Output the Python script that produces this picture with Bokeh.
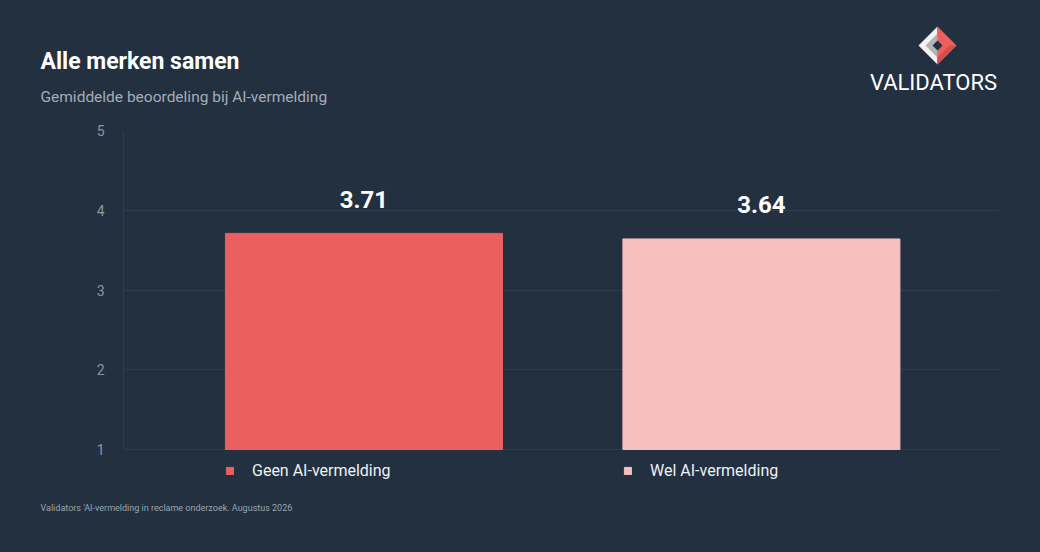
from bokeh.plotting import figure
from bokeh.models import (Range1d, FixedTicker, Legend, LegendItem, ColumnDataSource)
from bokeh.layouts import column
from bokeh.core.properties import value
from bokeh.embed import file_html
from bokeh.resources import INLINE

# ---- data ----
categories = ["Geen AI-vermelding", "Wel AI-vermelding"]
scores = [3.71, 3.64]
bar_colors = ["#eb5f5f", "#f6bfbf"]
y_ticks = [1, 2, 3, 4, 5]
title_text = "Alle merken samen"
subtitle_text = "Gemiddelde beoordeling bij AI-vermelding"
footer_text = "Validators 'AI-vermelding in reclame onderzoek. Augustus 2026"
logo_text = "VALIDATORS"

BG = "#223040"
GRID = "#2f3d4c"
FONT = "Roboto"
W = 1040
HEAD_H, MAIN_H, FOOT_H = 120, 370, 62


def blank(height, y0):
    f = figure(width=W, height=height, output_backend="svg", toolbar_location=None,
               x_range=Range1d(0, W), y_range=Range1d(y0 + height, y0),
               x_axis_location=None, y_axis_location=None,
               min_border=0, frame_align=False)
    f.min_border_left = f.min_border_right = f.min_border_top = f.min_border_bottom = 0
    f.background_fill_color = BG
    f.border_fill_color = BG
    f.outline_line_color = None
    f.xgrid.visible = False
    f.ygrid.visible = False
    return f


def txt(f, text, x, y, size, color, style="normal", align="left"):
    f.text(x=[x], y=[y], text=[text], text_font=value(FONT), text_font_size=size,
           text_color=color, text_font_style=style, text_align=align,
           text_baseline="alphabetic")


# ---- header ----
head = blank(HEAD_H, 0)
txt(head, title_text, 40, 61, "23px", "white", "bold")
txt(head, subtitle_text, 40, 96.5, "15.5px", "#a3adb8")
txt(head, logo_text, 933, 82, "22px", "white", align="center")
cx, cy, R = 937, 45, 19
head.patches(
    xs=[[cx - R, cx, cx], [cx - R + 7, cx, cx], [cx, cx + R, cx],
        [cx, cx + R, cx + R - 7, cx], [cx - 5, cx, cx + 5, cx]],
    ys=[[cy, cy - R, cy + R], [cy, cy - R + 7, cy + R - 7], [cy - R, cy, cy + R],
        [cy + R, cy, cy, cy + R - 7], [cy, cy - 5, cy, cy + 5]],
    fill_color=["#f2f2f2", "#b3b3b3", "#ec5f5f", "#d84c4c", BG], line_color=None)

# ---- main chart ----
FRAME_L, FRAME_R, FRAME_T = 123, 999, 130
Y1_PAGE, Y5_PAGE = 449, 130
MAIN_TOP = HEAD_H
MAIN_BOTTOM = HEAD_H + MAIN_H
unit = (Y1_PAGE - Y5_PAGE) / 4.0
y_start = 1 - (MAIN_BOTTOM - Y1_PAGE) / unit

p = figure(width=W, height=MAIN_H, output_backend="svg", toolbar_location=None,
           x_range=Range1d(-0.605, 1.599), y_range=Range1d(y_start, 5),
           x_axis_location=None, frame_align=False)
p.min_border_left = FRAME_L
p.min_border_right = W - FRAME_R
p.min_border_top = FRAME_T - MAIN_TOP
p.min_border_bottom = 0
p.background_fill_color = BG
p.border_fill_color = BG
p.outline_line_color = None

src = ColumnDataSource(dict(x=list(range(len(categories))), top=scores,
                            color=bar_colors, cat=categories,
                            lbl=["%.2f" % s for s in scores]))
r = p.vbar(x="x", top="top", bottom=1, width=0.697, color="color", source=src)

p.text(x="x", y="top", text="lbl", source=src, text_align="center",
       text_baseline="alphabetic", y_offset=-34, text_color="white",
       text_font=value(FONT), text_font_style="bold", text_font_size="24px")

p.xgrid.visible = False
p.yaxis.ticker = FixedTicker(ticks=y_ticks)
p.yaxis.bounds = (1, 5)
p.yaxis.axis_line_color = GRID
p.yaxis.major_tick_line_color = None
p.yaxis.minor_tick_line_color = None
p.yaxis.major_tick_out = 0
p.yaxis.major_tick_in = 0
p.yaxis.major_label_text_color = "#8c97a3"
p.yaxis.major_label_text_font = FONT
p.yaxis.major_label_text_font_size = "14px"
p.yaxis.major_label_standoff = 19
p.ygrid.ticker = FixedTicker(ticks=y_ticks)
p.ygrid.grid_line_color = GRID

for i, (cat, lx) in enumerate(zip(categories, [225, 623])):
    lg = Legend(items=[LegendItem(label=cat, renderers=[r], index=i)],
                location=(lx - FRAME_L, MAIN_BOTTOM - 480), orientation="horizontal",
                padding=0, margin=0, border_line_color=None,
                background_fill_alpha=0, glyph_width=9, glyph_height=9,
                label_standoff=18, label_text_color="#eef1f4",
                label_text_font=FONT, label_text_font_size="16px",
                label_height=9)
    p.add_layout(lg, "center")

# ---- footer ----
foot = blank(FOOT_H, MAIN_BOTTOM)
txt(foot, footer_text, 40, 507.5, "9px", "#9aa5b1")

layout = column(head, p, foot, spacing=0)
layout.styles = {"background-color": BG}
open("out.html", "w").write(file_html(layout, INLINE))
